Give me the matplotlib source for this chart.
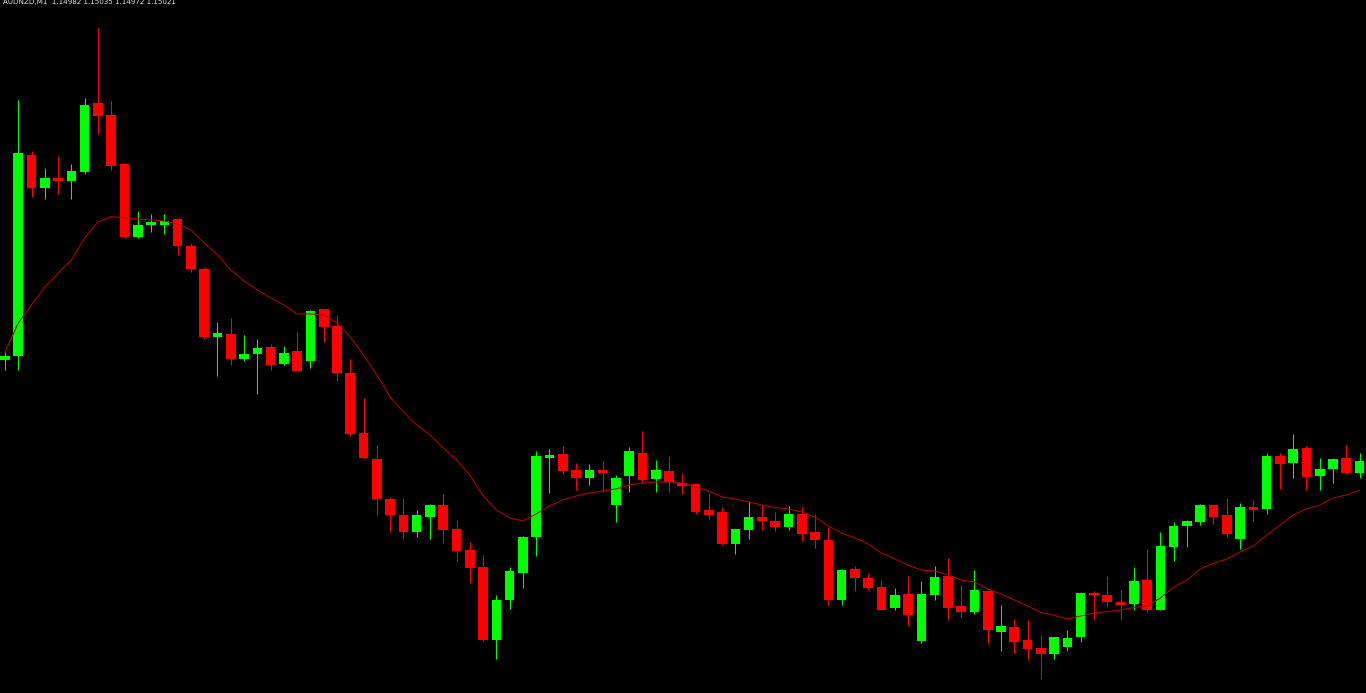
import numpy as np
import matplotlib
matplotlib.use("Agg")
import matplotlib.pyplot as plt

symbol_label = "AUDNZD,M1  1.14982 1.15035 1.14972 1.15021"

opens = [1.15280, 1.15289, 1.15690, 1.15623, 1.15643, 1.15638, 1.15656, 1.15793, 1.15770, 1.15672,
         1.15525, 1.15550, 1.15551, 1.15563, 1.15507, 1.15462, 1.15325, 1.15333, 1.15283, 1.15293,
         1.15306, 1.15272, 1.15298, 1.15278, 1.15381, 1.15347, 1.15255, 1.15133, 1.15082, 1.15002,
         1.14970, 1.14936, 1.14966, 1.14990, 1.14942, 1.14899, 1.14866, 1.14720, 1.14800, 1.14855,
         1.14926, 1.15084, 1.15092, 1.15061, 1.15043, 1.15060, 1.14991, 1.15049, 1.15095, 1.15042,
         1.15058, 1.15035, 1.15032, 1.14980, 1.14975, 1.14911, 1.14941, 1.14965, 1.14959, 1.14947,
         1.14973, 1.14935, 1.14920, 1.14800, 1.14862, 1.14845, 1.14826, 1.14785, 1.14811, 1.14718,
         1.14811, 1.14848, 1.14788, 1.14777, 1.14818, 1.14737, 1.14746, 1.14720, 1.14703, 1.14692,
         1.14707, 1.14725, 1.14814, 1.14810, 1.14796, 1.14793, 1.14840, 1.14781, 1.14906, 1.14949,
         1.14956, 1.14990, 1.14970, 1.14921, 1.14985, 1.14982, 1.15088, 1.15074, 1.15105, 1.15047,
         1.15063, 1.15083, 1.15055]
highs = [1.15296, 1.15800, 1.15698, 1.15665, 1.15688, 1.15672, 1.15804, 1.15944, 1.15798, 1.15675,
         1.15578, 1.15573, 1.15573, 1.15564, 1.15515, 1.15466, 1.15356, 1.15364, 1.15330, 1.15323,
         1.15313, 1.15308, 1.15335, 1.15380, 1.15382, 1.15371, 1.15283, 1.15203, 1.15110, 1.15007,
         1.15005, 1.14980, 1.14992, 1.15012, 1.14961, 1.14917, 1.14890, 1.14811, 1.14866, 1.14928,
         1.15097, 1.15102, 1.15108, 1.15075, 1.15072, 1.15078, 1.15050, 1.15107, 1.15138, 1.15080,
         1.15087, 1.15052, 1.15033, 1.15013, 1.14987, 1.14942, 1.14998, 1.14989, 1.14977, 1.14988,
         1.14987, 1.14972, 1.14947, 1.14863, 1.14867, 1.14853, 1.14841, 1.14823, 1.14848, 1.14838,
         1.14869, 1.14885, 1.14831, 1.14860, 1.14819, 1.14791, 1.14763, 1.14760, 1.14730, 1.14726,
         1.14741, 1.14817, 1.14818, 1.14848, 1.14820, 1.14866, 1.14902, 1.14937, 1.14955, 1.14960,
         1.14993, 1.14991, 1.15005, 1.14995, 1.15000, 1.15095, 1.15095, 1.15133, 1.15108, 1.15084,
         1.15084, 1.15110, 1.15094]
lows = [1.15260, 1.15260, 1.15606, 1.15602, 1.15612, 1.15603, 1.15652, 1.15733, 1.15660, 1.15524,
        1.15524, 1.15535, 1.15532, 1.15490, 1.15456, 1.15323, 1.15249, 1.15270, 1.15279, 1.15212,
        1.15261, 1.15271, 1.15257, 1.15263, 1.15317, 1.15239, 1.15129, 1.15082, 1.14970, 1.14937,
        1.14922, 1.14926, 1.14922, 1.14915, 1.14878, 1.14833, 1.14719, 1.14682, 1.14783, 1.14825,
        1.14888, 1.15013, 1.15052, 1.15020, 1.15030, 1.15017, 1.14955, 1.15017, 1.15033, 1.15017,
        1.15017, 1.15012, 1.14972, 1.14962, 1.14910, 1.14891, 1.14922, 1.14941, 1.14939, 1.14940,
        1.14918, 1.14905, 1.14790, 1.14791, 1.14819, 1.14820, 1.14779, 1.14781, 1.14749, 1.14715,
        1.14801, 1.14761, 1.14765, 1.14773, 1.14715, 1.14699, 1.14695, 1.14680, 1.14642, 1.14682,
        1.14699, 1.14717, 1.14760, 1.14787, 1.14760, 1.14779, 1.14775, 1.14780, 1.14877, 1.14907,
        1.14951, 1.14953, 1.14927, 1.14901, 1.14958, 1.14973, 1.15022, 1.15045, 1.15021, 1.15021,
        1.15035, 1.15052, 1.15043]
closes = [1.15288, 1.15693, 1.15625, 1.15643, 1.15639, 1.15658, 1.15791, 1.15768, 1.15668, 1.15525,
          1.15550, 1.15554, 1.15559, 1.15509, 1.15462, 1.15327, 1.15333, 1.15283, 1.15293, 1.15304,
          1.15270, 1.15295, 1.15258, 1.15378, 1.15345, 1.15253, 1.15133, 1.15084, 1.15002, 1.14970,
          1.14936, 1.14969, 1.14989, 1.14941, 1.14898, 1.14865, 1.14720, 1.14801, 1.14858, 1.14926,
          1.15087, 1.15090, 1.15059, 1.15043, 1.15059, 1.15055, 1.15045, 1.15097, 1.15040, 1.15060,
          1.15037, 1.15029, 1.14977, 1.14970, 1.14911, 1.14942, 1.14965, 1.14959, 1.14946, 1.14972,
          1.14933, 1.14920, 1.14800, 1.14861, 1.14843, 1.14825, 1.14780, 1.14811, 1.14769, 1.14811,
          1.14846, 1.14785, 1.14775, 1.14819, 1.14741, 1.14749, 1.14717, 1.14703, 1.14691, 1.14726,
          1.14724, 1.14813, 1.14809, 1.14797, 1.14791, 1.14838, 1.14780, 1.14909, 1.14947, 1.14957,
          1.14990, 1.14967, 1.14931, 1.14985, 1.14981, 1.15087, 1.15073, 1.15102, 1.15046, 1.15062,
          1.15082, 1.15055, 1.15077]
moving_average = [1.15296, 1.15354, 1.15390, 1.15426, 1.15454, 1.15480, 1.15524, 1.15556, 1.15567, 1.15564,
                  1.15562, 1.15560, 1.15558, 1.15552, 1.15540, 1.15514, 1.15490, 1.15460, 1.15438, 1.15420,
                  1.15404, 1.15390, 1.15372, 1.15372, 1.15370, 1.15354, 1.15326, 1.15290, 1.15250, 1.15206,
                  1.15176, 1.15150, 1.15130, 1.15104, 1.15080, 1.15050, 1.15008, 1.14980, 1.14964, 1.14958,
                  1.14972, 1.14988, 1.15000, 1.15008, 1.15014, 1.15018, 1.15022, 1.15030, 1.15034, 1.15036,
                  1.15036, 1.15034, 1.15026, 1.15018, 1.15006, 1.15002, 1.14996, 1.14990, 1.14985, 1.14982,
                  1.14976, 1.14966, 1.14948, 1.14934, 1.14924, 1.14912, 1.14894, 1.14882, 1.14870, 1.14860,
                  1.14858, 1.14850, 1.14840, 1.14836, 1.14822, 1.14812, 1.14800, 1.14788, 1.14775, 1.14769,
                  1.14762, 1.14768, 1.14774, 1.14777, 1.14780, 1.14785, 1.14788, 1.14804, 1.14826, 1.14840,
                  1.14862, 1.14874, 1.14882, 1.14896, 1.14908, 1.14930, 1.14950, 1.14970, 1.14982, 1.14990,
                  1.15004, 1.15010, 1.15020]

o = np.array(opens); h = np.array(highs); l = np.array(lows); c = np.array(closes)
ma = np.array(moving_average)
idx = np.arange(len(o))

W, H, DPI = 1366, 693, 100
fig = plt.figure(figsize=(W / DPI, H / DPI), dpi=DPI, facecolor="black")
ax = fig.add_axes([0, 0, 1, 1])
ax.set_facecolor("black")
ax.axis("off")

up = c >= o
colors = np.where(up, "#00FF00", "#FF0000")

ax.vlines(idx, l, h, colors=colors, linewidth=0.75, zorder=2)
body_low = np.minimum(o, c)
body_h = np.maximum(np.abs(c - o), 0.00005)
ax.bar(idx, body_h, bottom=body_low, width=0.72, color=colors, linewidth=0, zorder=3)

ax.plot(idx, ma, color="#B40000", linewidth=0.75, zorder=4)

# candle i sits at x = 5 + 13.28*i px; 0.00002 price per px vertically
step = 13.28
ax.set_xlim(-5 / step, (W - 5) / step)
ax.set_ylim(1.16000 - H * 0.00002, 1.16000)

fig.text(3 / W, 1 - 2 / H, symbol_label, color="#E8E8E8", fontsize=5.1,
         ha="left", va="center", family="DejaVu Sans")

fig.savefig("out.png", dpi=DPI, facecolor="black")
